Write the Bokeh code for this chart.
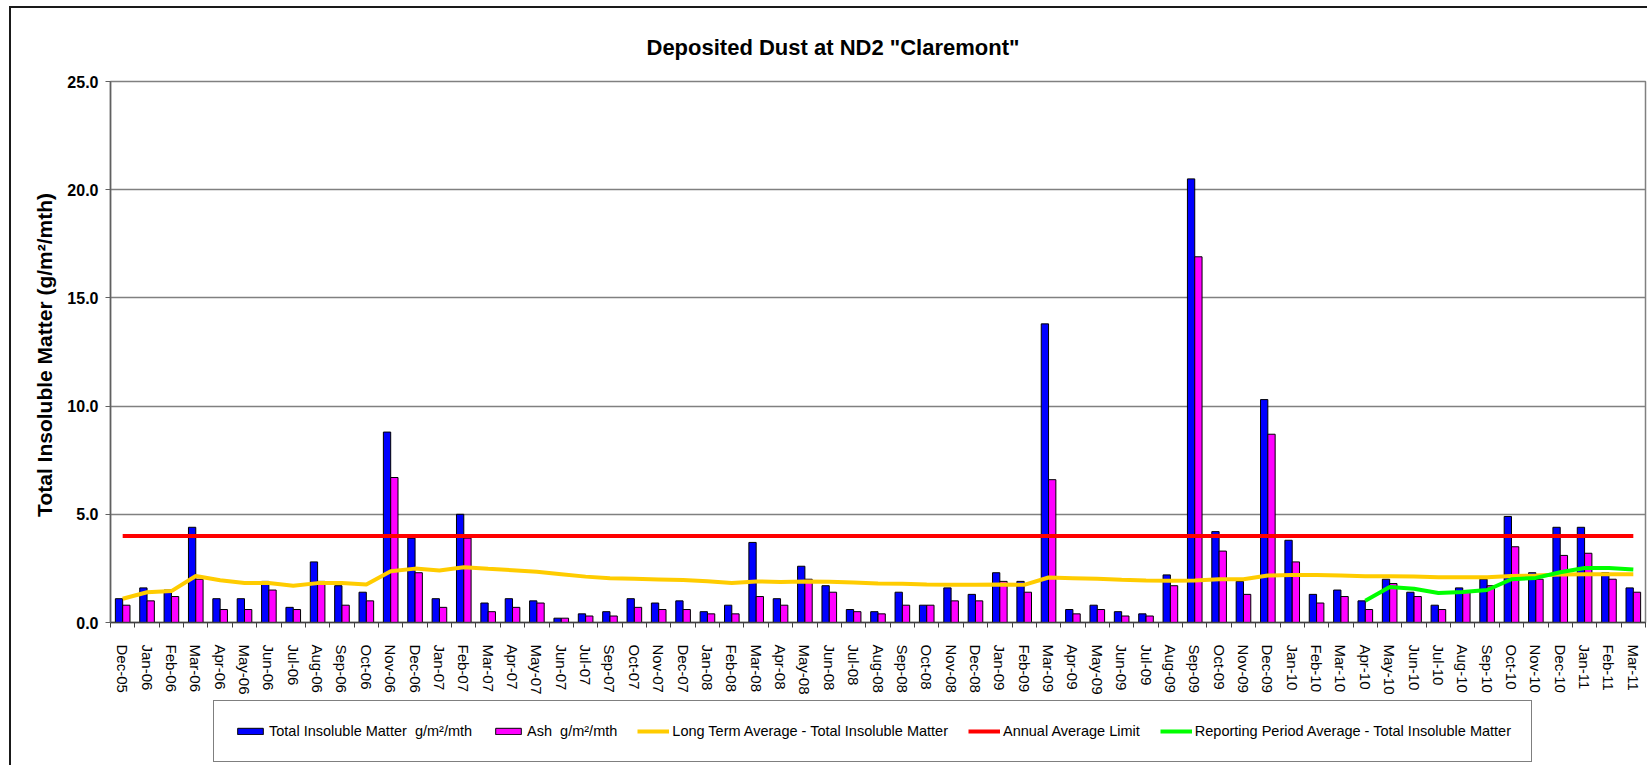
import math
from bokeh.plotting import figure
from bokeh.layouts import column
from bokeh.models import (ColumnDataSource, Range1d, FixedTicker, NumeralTickFormatter,
                          Legend, LegendItem)
from bokeh.transform import dodge
from bokeh.embed import file_html
from bokeh.resources import INLINE

months = ["Dec-05", "Jan-06", "Feb-06", "Mar-06", "Apr-06", "May-06", "Jun-06", "Jul-06",
          "Aug-06", "Sep-06", "Oct-06", "Nov-06", "Dec-06", "Jan-07", "Feb-07", "Mar-07",
          "Apr-07", "May-07", "Jun-07", "Jul-07", "Sep-07", "Oct-07", "Nov-07", "Dec-07",
          "Jan-08", "Feb-08", "Mar-08", "Apr-08", "May-08", "Jun-08", "Jul-08", "Aug-08",
          "Sep-08", "Oct-08", "Nov-08", "Dec-08", "Jan-09", "Feb-09", "Mar-09", "Apr-09",
          "May-09", "Jun-09", "Jul-09", "Aug-09", "Sep-09", "Oct-09", "Nov-09", "Dec-09",
          "Jan-10", "Feb-10", "Mar-10", "Apr-10", "May-10", "Jun-10", "Jul-10", "Aug-10",
          "Sep-10", "Oct-10", "Nov-10", "Dec-10", "Jan-11", "Feb-11", "Mar-11"]

total_insoluble = [1.1, 1.6, 1.5, 4.4, 1.1, 1.1, 1.9, 0.7, 2.8, 1.7, 1.4, 8.8, 3.9, 1.1, 5.0, 0.9,
                   1.1, 1.0, 0.2, 0.4, 0.5, 1.1, 0.9, 1.0, 0.5, 0.8, 3.7, 1.1, 2.6, 1.7, 0.6, 0.5,
                   1.4, 0.8, 1.6, 1.3, 2.3, 1.9, 13.8, 0.6, 0.8, 0.5, 0.4, 2.2, 20.5, 4.2, 1.9, 10.3,
                   3.8, 1.3, 1.5, 1.0, 2.0, 1.4, 0.8, 1.6, 2.0, 4.9, 2.3, 4.4, 4.4, 2.3, 1.6]

ash = [0.8, 1.0, 1.2, 2.0, 0.6, 0.6, 1.5, 0.6, 1.9, 0.8, 1.0, 6.7, 2.3, 0.7, 3.9, 0.5,
       0.7, 0.9, 0.2, 0.3, 0.3, 0.7, 0.6, 0.6, 0.4, 0.4, 1.2, 0.8, 2.0, 1.4, 0.5, 0.4,
       0.8, 0.8, 1.0, 1.0, 1.9, 1.4, 6.6, 0.4, 0.6, 0.3, 0.3, 1.7, 16.9, 3.3, 1.3, 8.7,
       2.8, 0.9, 1.2, 0.6, 1.8, 1.2, 0.6, 1.4, 1.7, 3.5, 2.0, 3.1, 3.2, 2.0, 1.4]

long_term_avg = [1.1, 1.4, 1.45, 2.15, 1.95, 1.83, 1.83, 1.7, 1.82, 1.82, 1.76, 2.37, 2.49, 2.4,
                 2.55, 2.48, 2.42, 2.34, 2.23, 2.12, 2.05, 2.02, 1.99, 1.96, 1.91, 1.82, 1.9,
                 1.87, 1.9, 1.88, 1.85, 1.8, 1.79, 1.76, 1.74, 1.74, 1.76, 1.74, 2.08, 2.05,
                 2.02, 1.97, 1.94, 1.93, 1.94, 2.0, 2.0, 2.17, 2.2, 2.19, 2.17, 2.14, 2.14,
                 2.12, 2.09, 2.09, 2.09, 2.15, 2.17, 2.22, 2.23, 2.23, 2.23]

annual_limit = 4.0

reporting_months = ["Apr-10", "May-10", "Jun-10", "Jul-10", "Aug-10", "Sep-10", "Oct-10",
                    "Nov-10", "Dec-10", "Jan-11", "Feb-11", "Mar-11"]
reporting_avg = [1.0, 1.64, 1.56, 1.36, 1.41, 1.5, 2.0, 2.06, 2.32, 2.52, 2.52, 2.45]

y_ticks = [0, 5, 10, 15, 20, 25]

series_names = ["Total Insoluble Matter  g/m²/mth", "Ash  g/m²/mth",
                "Long Term Average - Total Insoluble Matter", "Annual Average Limit",
                "Reporting Period Average - Total Insoluble Matter"]

FONT = "Liberation Sans"
BLUE, PINK, YELLOW, RED, GREEN = "#0000FF", "#FF00FF", "#FFCC00", "#FF0000", "#00FF00"
n = len(months)
idx = list(range(n))

src = ColumnDataSource(dict(x=idx, total=total_insoluble, ash=ash, lta=long_term_avg,
                            limit=[annual_limit] * n))
rep_src = ColumnDataSource(dict(x=[months.index(m) for m in reporting_months], y=reporting_avg))

W = 1636
H_MAIN = 689
H_LEG = 68


def draw_series(fig):
    """Draw the five series on a figure; returns the renderers."""
    rs = [
        fig.vbar(x=dodge("x", -0.15), top="total", width=0.3, source=src,
                 fill_color=BLUE, line_color="black", line_width=1),
        fig.vbar(x=dodge("x", 0.15), top="ash", width=0.3, source=src,
                 fill_color=PINK, line_color="black", line_width=1),
        fig.line(x="x", y="lta", source=src, line_color=YELLOW, line_width=4),
        fig.line(x="x", y="limit", source=src, line_color=RED, line_width=4),
        fig.line(x="x", y="y", source=rep_src, line_color=GREEN, line_width=4),
    ]
    return rs


p = figure(width=W, height=H_MAIN, output_backend="svg", toolbar_location=None,
           x_range=Range1d(-0.5, n - 0.5), y_range=Range1d(0, 25),
           min_border_left=99, min_border_right=2, min_border_top=73, min_border_bottom=71)
p.background_fill_color = "white"
p.border_fill_color = "white"
p.outline_line_color = "#808080"
p.outline_line_width = 1.5

# title
p.title.text = 'Deposited Dust at ND2 "Claremont"'
p.title.align = "left"
p.title.offset = 536
p.title.vertical_align = "top"
p.title.standoff = 40
p.title.text_font = FONT
p.title.text_font_style = "bold"
p.title.text_font_size = "22px"
p.title.text_color = "black"

draw_series(p)

# x axis
xa = p.xaxis[0]
xa.ticker = FixedTicker(ticks=idx, minor_ticks=[i - 0.5 for i in range(n + 1)])
xa.major_label_overrides = {i: m for i, m in enumerate(months)}
xa.major_label_orientation = "vertical"
xa.major_label_text_font = FONT
xa.major_label_text_font_size = "15px"
xa.major_label_text_color = "black"
xa.major_label_standoff = 17
xa.major_tick_out = 0
xa.major_tick_in = 0
xa.minor_tick_out = 5
xa.minor_tick_in = 0
xa.minor_tick_line_color = "#404040"
xa.axis_line_color = "#404040"
xa.axis_line_width = 1.5
p.xgrid.grid_line_color = None

# y axis
ya = p.yaxis[0]
ya.ticker = FixedTicker(ticks=y_ticks)
ya.formatter = NumeralTickFormatter(format="0.0")
ya.major_label_text_font = FONT
ya.major_label_text_font_style = "bold"
ya.major_label_text_font_size = "16px"
ya.major_label_text_color = "black"
ya.major_label_standoff = 7
ya.major_tick_out = 5
ya.major_tick_in = 0
ya.minor_tick_out = 0
ya.minor_tick_in = 0
ya.major_tick_line_color = "#606060"
ya.axis_line_color = "#606060"
ya.axis_line_width = 1.5
ya.axis_label = "Total Insoluble Matter  (g/m²/mth)"
ya.axis_label_text_font = FONT
ya.axis_label_text_font_style = "bold"
ya.axis_label_text_font_size = "21px"
ya.axis_label_text_color = "black"
ya.axis_label_standoff = 8
p.ygrid.grid_line_color = "#808080"
p.ygrid.grid_line_width = 1.5

# legend strip: a figure without axes whose value range lies above the data,
# so only the legend (with real swatches of the same series) is shown
lg = figure(width=W, height=H_LEG, output_backend="svg", toolbar_location=None,
            x_axis_location=None, y_axis_location=None,
            x_range=Range1d(-0.5, n - 0.5), y_range=Range1d(30, 31),
            min_border_left=0, min_border_right=0, min_border_top=0, min_border_bottom=0)
lg.grid.visible = False
lg.outline_line_color = None
lg.background_fill_color = "white"
lg.border_fill_color = "white"
leg_renderers = draw_series(lg)

legend = Legend(items=[LegendItem(label=s, renderers=[r])
                       for s, r in zip(series_names, leg_renderers)],
                orientation="horizontal", location=(103, 3))
legend.label_text_font = FONT
legend.label_text_font_size = "14.5px"
legend.label_text_color = "black"
legend.label_height = 20
legend.glyph_width = 32
legend.glyph_height = 8
legend.label_standoff = 3
legend.spacing = 20
legend.padding = 20
legend.margin = 0
legend.border_line_color = "black"
legend.border_line_width = 1
legend.background_fill_color = "white"
lg.add_layout(legend, "center")

layout = column(p, lg, spacing=0)
layout.styles = {"margin-top": "6px", "margin-left": "9px",
                 "border-top": "2px solid #1a1a1a", "border-left": "2px solid #1a1a1a"}

open("out.html", "w").write(file_html(layout, INLINE))
